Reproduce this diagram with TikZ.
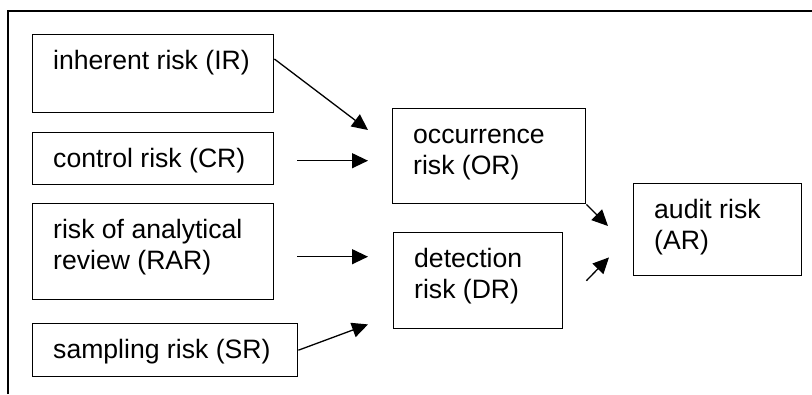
\documentclass[tikz,border=0pt]{standalone}
\usepackage{fontspec}
\setmainfont{Liberation Sans}
\usetikzlibrary{arrows.meta}

\begin{document}
\begin{tikzpicture}[
		x=1pt, y=-1pt,
		>={Triangle[length=16pt,width=15pt]},
		box/.style={draw, line width=1.4pt, anchor=north west, inner sep=0pt},
		txt/.style={anchor=north west, align=left, inner xsep=21pt, inner ysep=13.5pt,
			font=\fontsize{26.6}{31}\selectfont},
		arr/.style={->, line width=1.3pt},
	]
		\useasboundingbox (0,0) rectangle (812,394);

		% Outer frame
		\draw[line width=1.4pt] (8,394) -- (8,11) -- (812,11);

		% Component risks
		\node[box, minimum width=241pt, minimum height=78pt] (ir) at (32,34) {};
		\node[box, minimum width=241pt, minimum height=52pt] (cr) at (32,132) {};
		\node[box, minimum width=241pt, minimum height=96pt] (rar) at (32,203) {};
		\node[box, minimum width=265pt, minimum height=53pt] (sr) at (32,323) {};

		% Combined risks
		\node[box, minimum width=193pt, minimum height=95pt] (or) at (392,108) {};
		\node[box, minimum width=169pt, minimum height=96pt] (dr) at (393,232) {};
		\node[box, minimum width=168pt, minimum height=92pt] (ar) at (633,183) {};

		% Texts
		\node[txt] (ir-t) at (ir.north west) {\strut inherent risk (IR)};
		\node[txt] (cr-t) at (cr.north west) {\strut control risk (CR)};
		\node[txt] (rar-t) at (rar.north west) {\strut risk of analytical\\review (RAR)};
		\node[txt] (sr-t) at (sr.north west) {\strut sampling risk (SR)};
		\node[txt] (or-t) at (or.north west) {\strut occurrence\\risk (OR)};
		\node[txt] (dr-t) at (dr.north west) {\strut detection\\risk (DR)};
		\node[txt] (ar-t) at (ar.north west) {\strut audit risk\\(AR)};

		% Arrows
		\draw[arr] ([yshift=-25pt]ir.north east) -- ([xshift=-24pt,yshift=-22pt]or.north west);
		\draw[arr] ([xshift=23pt,yshift=-2pt]cr.east) -- ([xshift=-24pt,yshift=-2pt]cr.east -| or.west);
		\draw[arr] ([xshift=23pt,yshift=-5pt]rar.east) -- ([xshift=-25pt,yshift=-5pt]rar.east -| dr.west);
		\draw[arr] (sr.east) -- ([xshift=-25pt,yshift=5pt]dr.south west);
		\draw[arr] (or.south east) -- ([xshift=-25pt,yshift=-43pt]ar.north west);
		\draw[arr] ([xshift=23pt]dr.east) -- ([xshift=-24pt,yshift=19pt]ar.south west);
	\end{tikzpicture}
\end{document}
